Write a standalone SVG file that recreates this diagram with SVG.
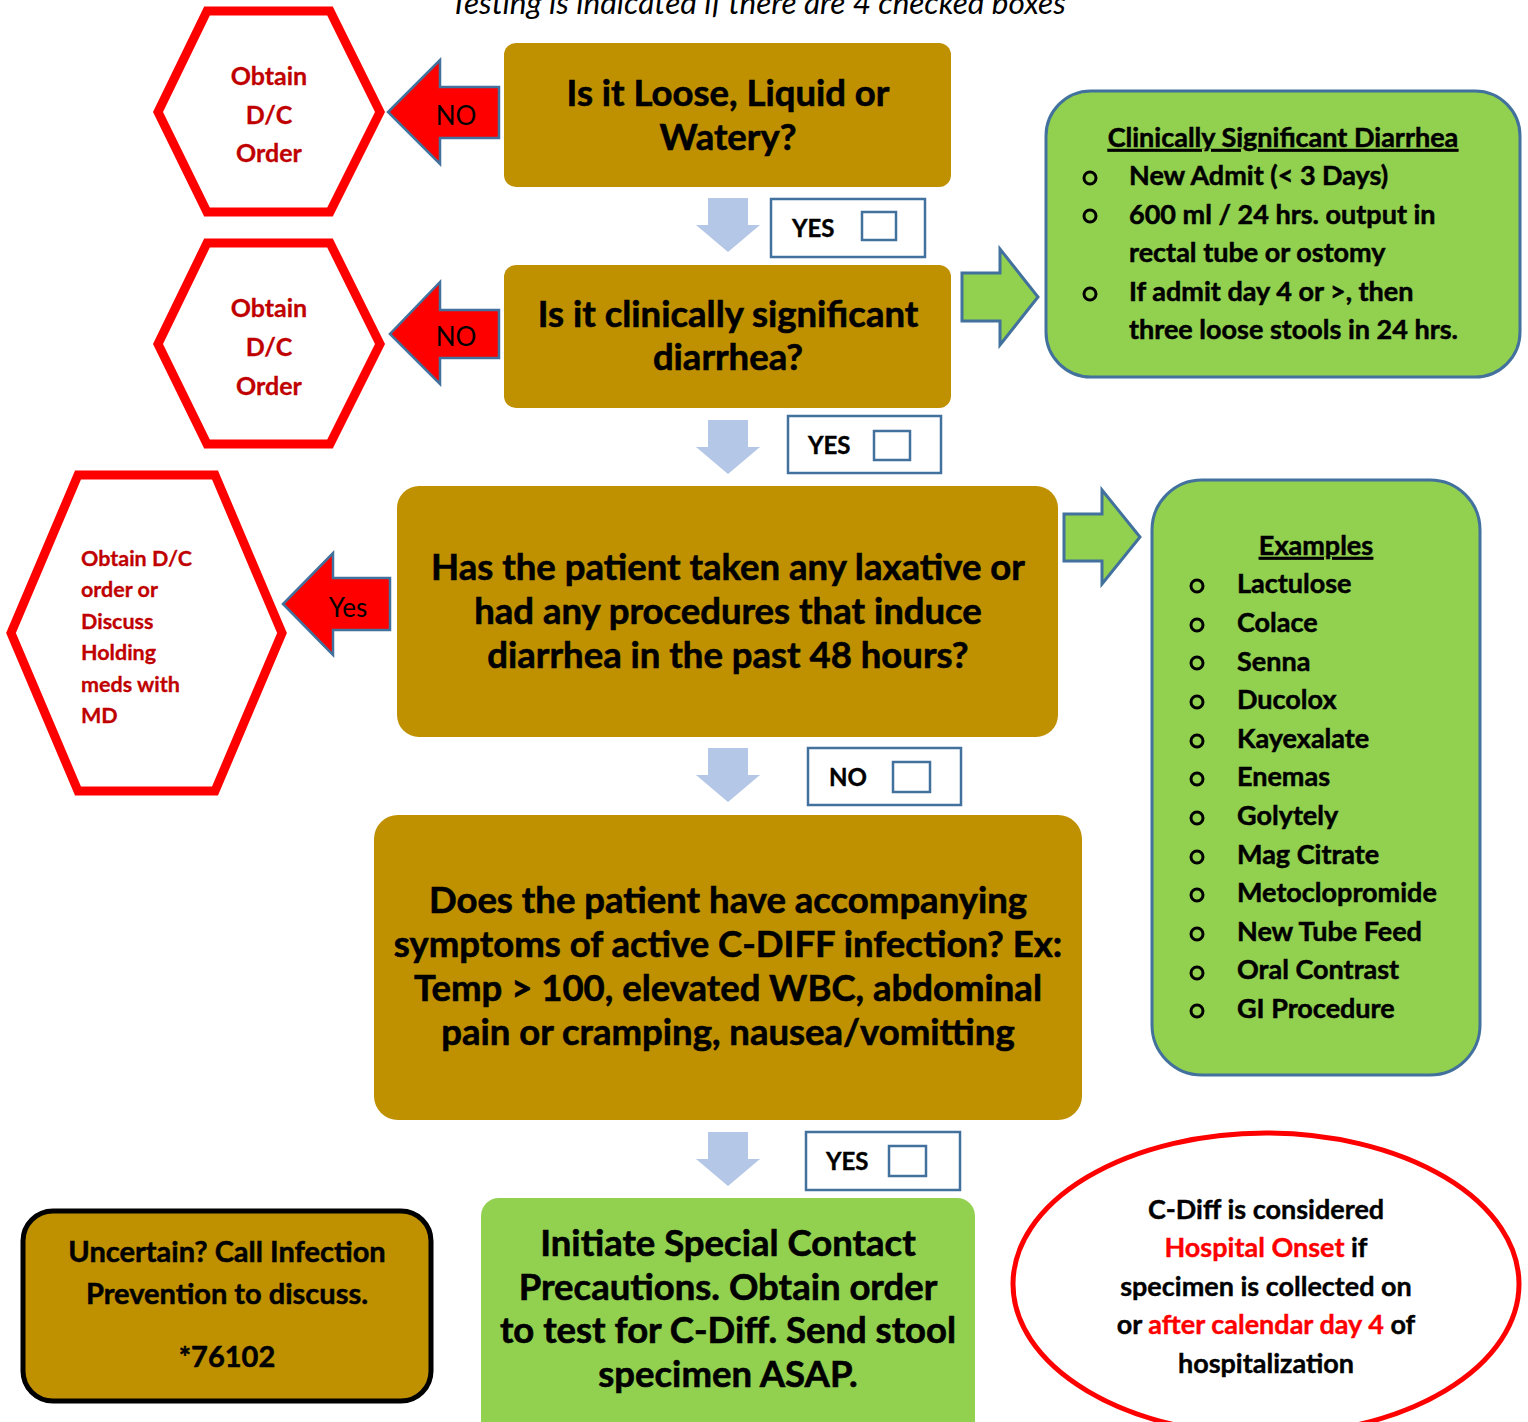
<svg xmlns="http://www.w3.org/2000/svg" width="1528" height="1422" viewBox="0 0 1528 1422">
<style>
text{font-family:Lato,"Open Sans","Liberation Sans",sans-serif;}
.q{fill:#BF9000;}
.qt{font-size:36.5px;font-weight:bold;fill:#000;stroke:#000;stroke-width:0.6;text-anchor:middle;}
.hex{fill:#fff;stroke:#FF0000;stroke-width:9;}
.ht{font-size:25px;font-weight:bold;fill:#C00000;stroke:#C00000;stroke-width:0.3;}
.ra{fill:#FF0000;stroke:#41719C;stroke-width:2.5;}
.ga{fill:#92D050;stroke:#41719C;stroke-width:3;}
.da{fill:#B4C7E7;}
.cb{fill:#fff;stroke:#41719C;stroke-width:2.5;}
.lbl{font-size:24px;font-weight:bold;fill:#000;stroke:#000;stroke-width:0.4;}
.al{font-size:26px;fill:#000;text-anchor:middle;}
.gb{fill:#92D050;stroke:#41719C;stroke-width:3;}
.li{font-size:27px;font-weight:bold;fill:#000;stroke:#000;stroke-width:0.5;}
.bul{fill:none;stroke:#000;stroke-width:3;}
.ot{font-size:27px;font-weight:bold;stroke-width:0.4;}
</style>

<text x="758" y="14" font-size="31.5" font-style="italic" text-anchor="middle" fill="#000">Testing is indicated if there are 4 checked boxes</text>

<g id="connectors">
  <polygon class="ra" points="499,87 440,87 440,60 388,112 440,164 440,138 499,138"/>
  <text class="al" x="456" y="125">NO</text>
  <polygon class="ra" points="499,310 440,310 440,282 390,334 440,384 440,358 499,358"/>
  <text class="al" x="456" y="346">NO</text>
  <polygon class="ra" points="390,578 333,578 333,553 283,604 333,655 333,630 390,630"/>
  <text class="al" x="348" y="617">Yes</text>
  <polygon class="ga" points="962,273 1000,273 1000,249 1038,297 1000,345 1000,321 962,321"/>
  <polygon class="ga" points="1064,514 1102,514 1102,490 1140,537 1102,584 1102,561 1064,561"/>
  <polygon class="da" points="708,198 748,198 748,225 760,225 728,252 696,225 708,225"/>
  <polygon class="da" points="708,420 748,420 748,447 760,447 728,474 696,447 708,447"/>
  <polygon class="da" points="708,748 748,748 748,775 760,775 728,802 696,775 708,775"/>
  <polygon class="da" points="708,1132 748,1132 748,1159 760,1159 728,1186 696,1159 708,1159"/>
  <rect class="cb" x="771" y="199" width="154" height="58"/>
  <text class="lbl" x="792" y="237">YES</text>
  <rect class="cb" x="862" y="212" width="34" height="28"/>
  <rect class="cb" x="788" y="416" width="153" height="57"/>
  <text class="lbl" x="808" y="454">YES</text>
  <rect class="cb" x="874" y="431" width="36" height="29"/>
  <rect class="cb" x="808" y="748" width="153" height="57"/>
  <text class="lbl" x="829" y="786">NO</text>
  <rect class="cb" x="893" y="762" width="37" height="30"/>
  <rect class="cb" x="806" y="1132" width="154" height="58"/>
  <text class="lbl" x="826" y="1170">YES</text>
  <rect class="cb" x="889" y="1146" width="37" height="30"/>
</g>

<g id="hex1">
  <polygon class="hex" points="158,112 207,11 330,11 380,112 330,212 207,212"/>
  <text class="ht" text-anchor="middle" x="269" y="85">Obtain</text>
  <text class="ht" text-anchor="middle" x="269" y="124">D/C</text>
  <text class="ht" text-anchor="middle" x="269" y="162">Order</text>
</g>
<g id="hex2">
  <polygon class="hex" points="158,344 207,243 330,243 380,344 330,444 207,444"/>
  <text class="ht" text-anchor="middle" x="269" y="317">Obtain</text>
  <text class="ht" text-anchor="middle" x="269" y="356">D/C</text>
  <text class="ht" text-anchor="middle" x="269" y="395">Order</text>
</g>
<g id="hex3">
  <polygon class="hex" points="11,633 78,475 215,475 282,633 215,791 78,791"/>
  <text class="ht" style="font-size:21.5px" x="81" y="566">Obtain D/C</text>
  <text class="ht" style="font-size:21.5px" x="81" y="597">order or</text>
  <text class="ht" style="font-size:21.5px" x="81" y="629">Discuss</text>
  <text class="ht" style="font-size:21.5px" x="81" y="660">Holding</text>
  <text class="ht" style="font-size:21.5px" x="81" y="692">meds with</text>
  <text class="ht" style="font-size:21.5px" x="81" y="723">MD</text>
</g>

<g id="q1">
  <rect class="q" x="504" y="43" width="447" height="144" rx="12"/>
  <text class="qt" x="728" y="106">Is it Loose, Liquid or</text>
  <text class="qt" x="728" y="150">Watery?</text>
</g>
<g id="q2">
  <rect class="q" x="504" y="265" width="447" height="143" rx="12"/>
  <text class="qt" x="728" y="327">Is it clinically significant</text>
  <text class="qt" x="728" y="370">diarrhea?</text>
</g>
<g id="q3">
  <rect class="q" x="397" y="486" width="661" height="251" rx="22"/>
  <text class="qt" x="728" y="580">Has the patient taken any laxative or</text>
  <text class="qt" x="728" y="624">had any procedures that induce</text>
  <text class="qt" x="728" y="668">diarrhea in the past 48 hours?</text>
</g>
<g id="q4">
  <rect class="q" x="374" y="815" width="708" height="305" rx="24"/>
  <text class="qt" x="728" y="913">Does the patient have accompanying</text>
  <text class="qt" x="728" y="957">symptoms of active C-DIFF infection? Ex:</text>
  <text class="qt" x="728" y="1001">Temp &gt; 100, elevated WBC, abdominal</text>
  <text class="qt" x="728" y="1045">pain or cramping, nausea/vomitting</text>
</g>

<g id="csd">
  <rect class="gb" x="1046" y="91" width="474" height="286" rx="45"/>
  <text class="li" x="1283" y="147" text-anchor="middle" text-decoration="underline">Clinically Significant Diarrhea</text>
  <circle class="bul" cx="1090" cy="178" r="6"/>
  <circle class="bul" cx="1090" cy="216" r="6"/>
  <circle class="bul" cx="1090" cy="294" r="6"/>
  <text class="li" x="1129" y="185">New Admit (&lt; 3 Days)</text>
  <text class="li" x="1129" y="224">600 ml / 24 hrs. output in</text>
  <text class="li" x="1129" y="262">rectal tube or ostomy</text>
  <text class="li" x="1129" y="301">If admit day 4 or &gt;, then</text>
  <text class="li" x="1129" y="339">three loose stools in 24 hrs.</text>
</g>

<g id="examples">
  <rect class="gb" x="1152" y="480" width="328" height="595" rx="50"/>
  <text class="li" x="1316" y="555" text-anchor="middle" text-decoration="underline">Examples</text>
  <circle class="bul" cx="1197" cy="586" r="6"/>
  <circle class="bul" cx="1197" cy="625" r="6"/>
  <circle class="bul" cx="1197" cy="663" r="6"/>
  <circle class="bul" cx="1197" cy="702" r="6"/>
  <circle class="bul" cx="1197" cy="741" r="6"/>
  <circle class="bul" cx="1197" cy="779" r="6"/>
  <circle class="bul" cx="1197" cy="818" r="6"/>
  <circle class="bul" cx="1197" cy="857" r="6"/>
  <circle class="bul" cx="1197" cy="895" r="6"/>
  <circle class="bul" cx="1197" cy="934" r="6"/>
  <circle class="bul" cx="1197" cy="973" r="6"/>
  <circle class="bul" cx="1197" cy="1011" r="6"/>
  <text class="li" x="1237" y="593">Lactulose</text>
  <text class="li" x="1237" y="632">Colace</text>
  <text class="li" x="1237" y="671">Senna</text>
  <text class="li" x="1237" y="709">Ducolox</text>
  <text class="li" x="1237" y="748">Kayexalate</text>
  <text class="li" x="1237" y="786">Enemas</text>
  <text class="li" x="1237" y="825">Golytely</text>
  <text class="li" x="1237" y="864">Mag Citrate</text>
  <text class="li" x="1237" y="902">Metoclopromide</text>
  <text class="li" x="1237" y="941">New Tube Feed</text>
  <text class="li" x="1237" y="979">Oral Contrast</text>
  <text class="li" x="1237" y="1018">GI Procedure</text>
</g>

<g id="uncertain">
  <rect x="23" y="1211" width="408" height="190" rx="30" fill="#BF9000" stroke="#000" stroke-width="5"/>
  <text class="li" style="font-size:29px" x="227" y="1262" text-anchor="middle">Uncertain? Call Infection</text>
  <text class="li" style="font-size:29px" x="227" y="1304" text-anchor="middle">Prevention to discuss.</text>
  <text class="li" style="font-size:29px" x="227" y="1367" text-anchor="middle">*76102</text>
</g>

<g id="initiate">
  <rect x="481" y="1198" width="494" height="240" rx="18" fill="#92D050"/>
  <text class="qt" x="728" y="1256">Initiate Special Contact</text>
  <text class="qt" x="728" y="1300">Precautions. Obtain order</text>
  <text class="qt" x="728" y="1343">to test for C-Diff. Send stool</text>
  <text class="qt" x="728" y="1387">specimen ASAP.</text>
</g>

<g id="onset">
  <ellipse cx="1266" cy="1284" rx="253" ry="151" fill="#fff" stroke="#FF0000" stroke-width="5"/>
  <g text-anchor="middle" fill="#000" stroke="#000">
    <text class="ot" x="1266" y="1219">C-Diff is considered</text>
    <text class="ot" x="1266" y="1257"><tspan fill="#FF0000" stroke="#FF0000">Hospital Onset</tspan> if</text>
    <text class="ot" x="1266" y="1296">specimen is collected on</text>
    <text class="ot" x="1266" y="1334">or <tspan fill="#FF0000" stroke="#FF0000">after calendar day 4</tspan> of</text>
    <text class="ot" x="1266" y="1373">hospitalization</text>
  </g>
</g>
</svg>
